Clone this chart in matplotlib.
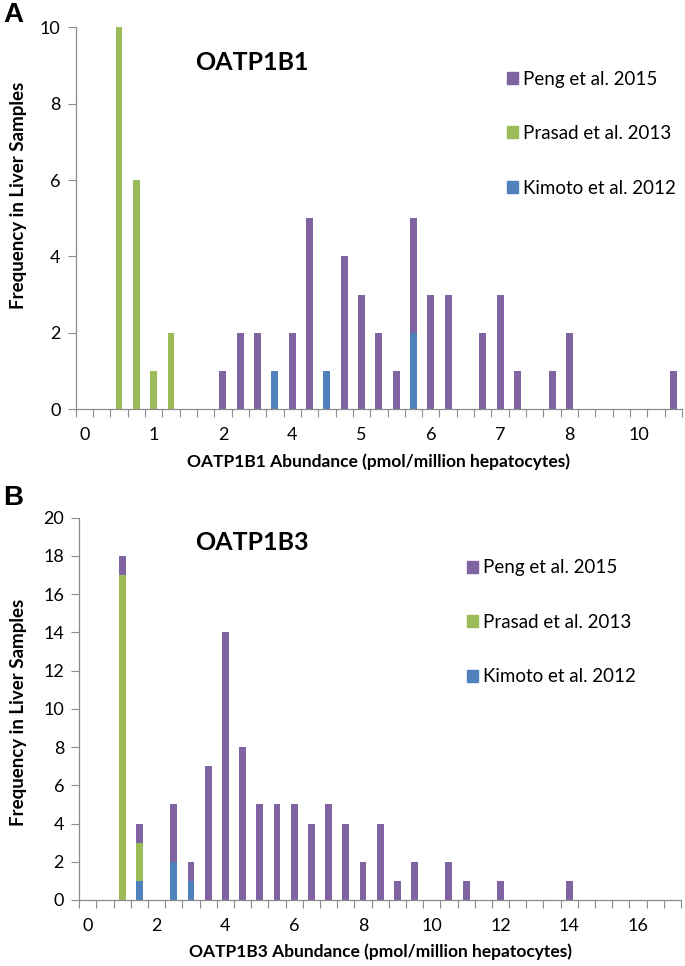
import numpy as np
import matplotlib
matplotlib.use("Agg")
import matplotlib.pyplot as plt
from matplotlib.patches import Patch

plt.rcParams['font.family'] = ['Lato', 'DejaVu Sans']

# Excel 2007 palette
PURPLE = '#8064A2'
GREEN = '#9BBB59'
BLUE = '#4F81BD'
GREY = '#8c8c8c'

series_names = ['Peng et al. 2015', 'Prasad et al. 2013', 'Kimoto et al. 2012']

# OATP1B1: 35 bins, label shown every 4th bin
b1_ticklabels = ['0', '1', '2', '4', '5', '6', '7', '8', '10']
b1_peng = [0, 0, 0, 0, 0, 0, 0, 0, 1, 2,
           2, 0, 2, 5, 0, 4, 3, 2, 1, 3,
           3, 3, 0, 2, 3, 1, 0, 1, 2, 0,
           0, 0, 0, 0, 1]
b1_prasad = [0, 0, 10, 6, 1, 2, 0, 0, 0, 0,
             0, 0, 0, 0, 0, 0, 0, 0, 0, 0,
             0, 0, 0, 0, 0, 0, 0, 0, 0, 0,
             0, 0, 0, 0, 0]
b1_kimoto = [0, 0, 0, 0, 0, 0, 0, 0, 0, 0,
             0, 1, 0, 0, 1, 0, 0, 0, 0, 2,
             0, 0, 0, 0, 0, 0, 0, 0, 0, 0,
             0, 0, 0, 0, 0]

# OATP1B3: 35 bins of 0.5
b3_ticklabels = ['0', '2', '4', '6', '8', '10', '12', '14', '16']
b3_peng = [0, 0, 1, 1, 0, 3, 1, 7, 14, 8,
           5, 5, 5, 4, 5, 4, 2, 4, 1, 2,
           0, 2, 1, 0, 1, 0, 0, 0, 1, 0,
           0, 0, 0, 0, 0]
b3_prasad = [0, 0, 17, 2, 0, 0, 0, 0, 0, 0,
             0, 0, 0, 0, 0, 0, 0, 0, 0, 0,
             0, 0, 0, 0, 0, 0, 0, 0, 0, 0,
             0, 0, 0, 0, 0]
b3_kimoto = [0, 0, 0, 1, 0, 2, 1, 0, 0, 0,
             0, 0, 0, 0, 0, 0, 0, 0, 0, 0,
             0, 0, 0, 0, 0, 0, 0, 0, 0, 0,
             0, 0, 0, 0, 0]

W, H = 685, 966
fig = plt.figure(figsize=(W / 100, H / 100), dpi=100)


def fx(x):
    return x / W


def fy(y):
    return 1 - y / H


def panel(rect, peng, prasad, kimoto, ticklabels, ymax, ystep, title, xlabel,
          title_xy, leg_xy, letter, letter_xy, ylab_pos):
    ax = fig.add_axes(rect)
    x = np.arange(len(peng))
    kim = np.array(kimoto)
    pra = np.array(prasad)
    pen = np.array(peng)
    ax.bar(x, kim, width=0.4, color=BLUE)
    ax.bar(x, pra, width=0.4, bottom=kim, color=GREEN)
    ax.bar(x, pen, width=0.4, bottom=kim + pra, color=PURPLE)

    ax.set_xlim(-0.5, len(peng) - 0.5)
    ax.set_ylim(0, ymax)
    ax.set_xticks(np.arange(0, len(peng), 4))
    ax.set_xticklabels(ticklabels)
    ax.set_xticks(np.arange(-0.5, len(peng), 1), minor=True)
    ax.tick_params(axis='x', which='major', length=0, pad=13, labelsize=13)
    ax.tick_params(axis='x', which='minor', length=6, color=GREY, width=0.8)
    ax.set_yticks(np.arange(0, ymax + 1, ystep))
    ax.tick_params(axis='y', length=6, color=GREY, width=0.8, labelsize=13, pad=5)

    for s in ['top', 'right']:
        ax.spines[s].set_visible(False)
    for s in ['left', 'bottom']:
        ax.spines[s].set_color(GREY)
        ax.spines[s].set_linewidth(0.9)

    ax.set_xlabel(xlabel, fontsize=12.5, fontweight='bold', labelpad=7)
    ax.set_ylabel('Frequency in Liver Samples', fontsize=13.5, fontweight='bold')
    ax.yaxis.set_label_coords(*ylab_pos)

    fig.text(fx(title_xy[0]), fy(title_xy[1]), title, fontsize=18,
             fontweight='bold', ha='center', va='center')
    fig.text(fx(letter_xy[0]), fy(letter_xy[1]), letter, fontsize=20,
             fontweight='bold', ha='center', va='center', family='Liberation Sans')

    handles = [Patch(color=PURPLE), Patch(color=GREEN), Patch(color=BLUE)]
    ax.legend(handles, series_names, loc='upper left',
              bbox_to_anchor=(fx(leg_xy[0]), fy(leg_xy[1])),
              bbox_transform=fig.transFigure, frameon=False, fontsize=13.5,
              handlelength=0.6, handleheight=0.6, handletextpad=0.27,
              labelspacing=2.0, borderaxespad=0, borderpad=0)
    return ax


panel([fx(75.7), fy(409.3), fx(682) - fx(75.7), fy(27.3) - fy(409.3)],
      b1_peng, b1_prasad, b1_kimoto, b1_ticklabels, 10, 2,
      'OATP1B1', 'OATP1B1 Abundance (pmol/million hepatocytes)',
      (252, 62), (507, 70.5), 'A', (13, 15), (-0.080, 0.56))

panel([fx(79.3), fy(900), fx(681) - fx(79.3), fy(517.7) - fy(900)],
      b3_peng, b3_prasad, b3_kimoto, b3_ticklabels, 20, 2,
      'OATP1B3', 'OATP1B3 Abundance (pmol/million hepatocytes)',
      (252, 543), (467, 559.5), 'B', (13, 498), (-0.087, 0.49))

fig.savefig('out.png', dpi=100)
